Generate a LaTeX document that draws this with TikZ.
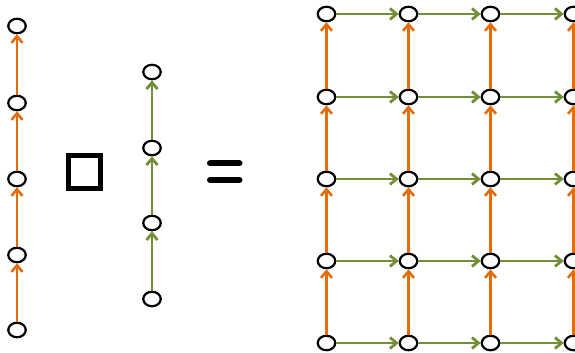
\documentclass[tikz,border=0pt]{standalone}
\usetikzlibrary{arrows.meta,shapes.geometric}
\definecolor{edgeA}{RGB}{228,108,10}
\definecolor{edgeB}{RGB}{114,143,55}
\tikzset{
  vtx/.style={draw=black, line width=2.2pt, fill=white, shape=ellipse, minimum width=17.5pt, minimum height=14.5pt, inner sep=0pt},
  tipstyle/.style={-{Straight Barb[length=6.5pt,width=11pt]}},
  upedge/.style={color=edgeA, line width=2.6pt, tipstyle},
  rightedge/.style={color=edgeB, line width=2.8pt, tipstyle},
  opsym/.style={line width=5pt}
}
\begin{document}
\begin{tikzpicture}[x=1pt,y=1pt]
\useasboundingbox (0,0) rectangle (575,353);

% first factor: directed path, bottom to top
\foreach \i/\yy in {1/23,2/98,3/174,4/250,5/327}
  \node[vtx] (p\i) at (17,\yy) {};
\foreach \i/\k in {1/2,2/3,3/4,4/5}
  \draw[upedge] (p\i) -- (p\k);

% box product symbol
\draw[opsym] (68.5,164.5) rectangle (100.5,197.5);

% second factor: directed path, bottom to top
\foreach \i/\yy in {1/54,2/130,3/205,4/281}
  \node[vtx] (q\i) at (152,\yy) {};
\foreach \i/\k in {1/2,2/3,3/4}
  \draw[rightedge] (q\i) -- (q\k);

% equals sign
\draw[line width=6pt, line cap=round] (210,189.5) -- (239.5,189.5);
\draw[line width=6pt, line cap=round] (210,173.3) -- (239.5,173.3);

% product grid
\foreach \c/\xx in {1/326.5,2/408.5,3/490.5,4/573.5}
  \foreach \r/\yy in {1/10,2/92,3/174,4/256,5/339}
    \node[vtx] (g\c\r) at (\xx,\yy) {};
\foreach \c in {1,2,3,4}
  \foreach \r/\k in {1/2,2/3,3/4,4/5}
    \draw[upedge] (g\c\r) -- (g\c\k);
\foreach \c/\d in {1/2,2/3,3/4}
  \foreach \r in {1,2,3,4,5}
    \draw[rightedge] (g\c\r) -- (g\d\r);
\end{tikzpicture}
\end{document}
